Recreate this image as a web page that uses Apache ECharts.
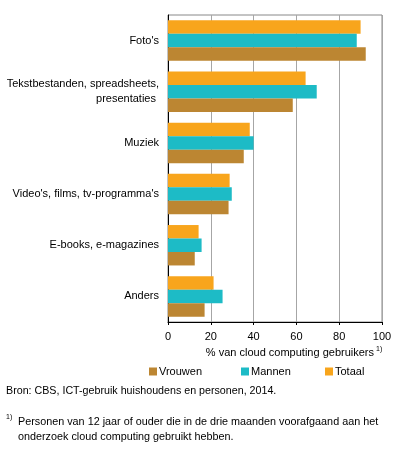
<!DOCTYPE html>
<html>
<head>
<meta charset="utf-8">
<script src="https://cdn.jsdelivr.net/npm/echarts@6/dist/echarts.min.js"></script>
<style>
html,body{margin:0;padding:0;background:#fff;}
#main{width:396px;height:451px;}
</style>
</head>
<body>
<div id="main"></div>
<script>
var categories = ["Foto's", "Tekstbestanden, spreadsheets,\npresentaties ", "Muziek", "Video's, films, tv-programma's", "E-books, e-magazines", "Anders"];
var vrouwen = [92.4, 58.3, 35.4, 28.3, 12.5, 17.1];
var mannen = [88.2, 69.5, 40.0, 29.8, 15.7, 25.5];
var totaal = [90.0, 64.3, 38.2, 28.8, 14.3, 21.3];
var xTicks = [0, 20, 40, 60, 80, 100];
var seriesNames = ["Vrouwen", "Mannen", "Totaal"];
var colors = ["#BC8632", "#1DBBC6", "#F8A51C"];

var FONT = "'Liberation Sans', Arial, sans-serif";
var chart = echarts.init(document.getElementById('main'), null, {renderer: 'canvas'});

function legendFor(i, left) {
  return {
    data: [seriesNames[i]],
    left: left, top: 366,
    itemWidth: 8, itemHeight: 8, itemGap: 0,
    icon: 'rect',
    padding: 0,
    textStyle: {fontFamily: FONT, fontSize: 11, color: '#000', padding: [0, 0, 0, -3]},
    selectedMode: false
  };
}

var seriesData = [vrouwen, mannen, totaal];
// draw order top-to-bottom within a group: Totaal, Mannen, Vrouwen
var drawOrder = [2, 1, 0];
chart.setOption({
  animation: false,
  textStyle: {fontFamily: FONT},
  grid: {left: 168, right: 14, top: 15, bottom: 129, show: true, borderColor: '#888888', borderWidth: 1, containLabel: false},
  legend: [legendFor(0, 149), legendFor(1, 241), legendFor(2, 325)],
  xAxis: {
    type: 'value', min: xTicks[0], max: xTicks[xTicks.length - 1], interval: 20,
    axisLine: {show: true, lineStyle: {color: '#000', width: 1}},
    axisTick: {show: true, length: 3, lineStyle: {color: '#000'}},
    axisLabel: {color: '#000', fontSize: 11, fontFamily: FONT, margin: 9},
    splitLine: {show: true, lineStyle: {color: '#A6A6A6', width: 1}}
  },
  yAxis: {
    type: 'category', data: categories, inverse: true,
    axisLine: {show: true, lineStyle: {color: '#000', width: 1}},
    axisTick: {show: false},
    axisLabel: {color: '#000', fontSize: 11, fontFamily: FONT, margin: 9, lineHeight: 15, align: 'right'},
    splitLine: {show: false}
  },
  series: drawOrder.map(function (i) {
    return {
      name: seriesNames[i], type: 'bar', data: seriesData[i],
      itemStyle: {color: colors[i]},
      barGap: '0%', barCategoryGap: '21%'
    };
  }),
  graphic: [
    {type: 'text', right: 22, top: 347, style: {text: '% van cloud computing gebruikers', font: '11px ' + FONT, fill: '#000'}},
    {type: 'text', left: 376, top: 346, style: {text: '1)', font: '7px ' + FONT, fill: '#000'}},
    {type: 'text', left: 6, top: 386, style: {text: 'Bron: CBS, ICT-gebruik huishoudens en personen, 2014.', font: '10.7px ' + FONT, fill: '#000'}},
    {type: 'text', left: 6, top: 414, style: {text: '1)', font: '7px ' + FONT, fill: '#000'}},
    {type: 'text', left: 18, top: 415, style: {text: 'Personen van 12 jaar of ouder die in de drie maanden voorafgaand aan het\nonderzoek cloud computing gebruikt hebben.', font: '10.8px ' + FONT, fill: '#000', lineHeight: 15}}
  ]
});
</script>
</body>
</html>
